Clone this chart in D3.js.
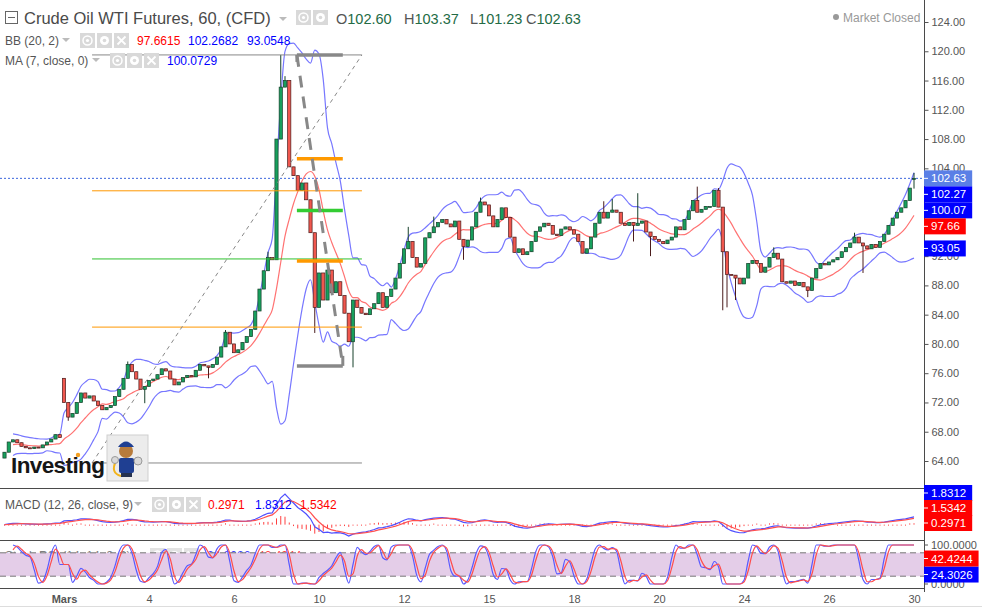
<!DOCTYPE html>
<html>
<head>
<meta charset="utf-8" />
<title>Crude Oil WTI Futures, 60</title>
<script src="https://d3js.org/d3.v7.min.js"></script>
<style>
  body { margin: 0; background: #fff; }
  svg text { font-family: "Liberation Sans", Arial, sans-serif; }
</style>
</head>
<body>
<svg id="chart" width="982" height="608"></svg>
<script>
// closes, one candle every ~4.25px (each stands for ~2 hourly bars)
var closes = [
  65.2, 66.6, 66.9, 66.5, 66.0, 65.8, 65.7, 65.9, 65.8, 66.2,
  66.6, 67.0, 67.6, 67.2, 72.0, 70.0, 70.5, 72.0, 73.3, 72.6,
  72.9, 72.2, 71.6, 71.0, 71.3, 71.6, 72.8, 73.8, 75.3, 77.2,
  76.2, 75.2, 73.8, 74.2, 75.0, 75.2, 75.8, 76.6, 76.3, 75.2,
  74.4, 74.8, 75.4, 75.7, 75.5, 76.4, 77.2, 77.0, 76.8, 77.2,
  78.2, 79.6, 81.6, 80.0, 78.8, 79.2, 80.2, 81.0, 82.0, 84.5,
  87.5, 90.0, 91.8, 91.5, 108.0, 115.1, 116.0, 104.2, 103.0, 101.0,
  102.0, 99.7, 95.2, 85.0, 89.7, 86.0, 90.1, 87.0, 88.5, 86.6,
  84.2, 80.3, 86.0, 85.0, 84.2, 84.0, 84.8, 85.5, 87.0, 85.0,
  86.5, 87.5, 89.0, 91.0, 93.0, 94.0, 91.8, 90.5, 91.0, 94.5,
  95.2, 96.0, 96.6, 97.0, 96.4, 96.0, 96.8, 94.3, 93.3, 94.2,
  96.0, 98.0, 99.4, 99.0, 97.5, 96.0, 97.0, 98.6, 97.3, 94.6,
  92.5, 93.0, 92.2, 92.6, 94.0, 95.4, 96.0, 96.5, 96.2, 95.0,
  94.8, 95.7, 96.0, 95.6, 95.0, 94.0, 92.4, 93.0, 94.6, 96.5,
  98.0, 97.2, 98.0, 98.3, 98.0, 96.5, 96.2, 96.6, 96.2, 96.5,
  96.8, 95.3, 94.7, 94.3, 94.0, 93.7, 94.2, 94.6, 96.0, 95.6,
  97.0, 98.2, 99.6, 98.0, 98.4, 98.8, 98.8, 101.0, 98.7, 92.6,
  89.5, 89.4, 89.0, 88.2, 89.0, 91.0, 91.4, 91.0, 89.8, 90.5,
  91.8, 92.4, 91.6, 88.5, 88.3, 88.6, 88.0, 88.4, 87.8, 87.3,
  89.0, 90.3, 91.0, 90.8, 91.2, 91.5, 91.8, 92.6, 93.2, 93.8,
  94.6, 93.8, 93.4, 93.0, 93.6, 93.2, 94.0, 95.0, 96.2, 97.2,
  98.0, 98.6, 99.6, 101.3, 102.63
];
// open = previous close, except where there is a gap
var gapOpens = [[0, 64.4], [14, 75.3], [214, 102.60]];
// wicks that stick out of the bodies
var wickHighs = [[14, 75.3], [29, 77.6], [52, 81.9], [62, 92.6], [65, 119.5], [66, 116.6],
  [95, 96.0], [101, 97.4], [112, 100.0], [141, 99.5], [143, 99.8], [149, 100.6],
  [163, 101.5], [168, 101.3], [181, 93.2], [200, 95.2], [214, 103.37]];
var wickLows = [[15, 69.5], [33, 71.9], [48, 75.3], [73, 81.5], [82, 76.8], [108, 91.5],
  [148, 94.0], [152, 92.0], [169, 84.6], [170, 85.0], [172, 86.0], [189, 86.4],
  [202, 89.7], [214, 101.23]];

var dateTickIdx = [14, 34, 54, 74, 94, 114, 134, 154, 174, 194, 214];
var dateLabels = ["Mars", "4", "6", "10", "12", "15", "18", "20", "24", "26", "30"];
var priceTicks = [124, 120, 116, 112, 108, 104, 100, 96, 92, 88, 84, 80, 76, 72, 68, 64];

var ohlcText = [["O", "102.60"], ["H", "103.37"], ["L", "101.23"], ["C", "102.63"]];
var bbText = ["97.6615", "102.2682", "93.0548"];
var maText = ["100.0729"];
var macdText = ["0.2971", "1.8312", "1.5342"];
var stochText = ["24.3026", "42.4244"];
var priceTags = [[102.63, "#5a7fe6"], [102.27, "#0000ff"], [100.07, "#0000ff"], [97.66, "#ff0000"], [93.05, "#0000ff"]];
var macdTags = [["1.8312", "#0000ff"], ["1.5342", "#ff0000"], ["0.2971", "#ff0000"]];
var stochTags = [[42.4244, "#ff0000"], [24.3026, "#0000ff"]];

// fib drawings: [index from, index to, low, high] and their levels
var fibThin = [20.6, 84.1, 63.73, 119.5];
var fibThinLevels = [[0, "#888"], [0.333, "#ff9800"], [0.5, "#2ec02e"], [0.667, "#ff9800"], [1, "#888"]];
var fibThick = [68.8, 79.6, 77.0, 119.5];
var fibThickLevels = [[0, "#888"], [0.334, "#ff9900"], [0.5, "#33cc33"], [0.663, "#ff9900"], [1, "#888"]];

// indicator settings are in hourly bars; one drawn candle ~ 2 of them
var barsPerCandle = 2;
var bbLen = 20, macdFast = 12, macdSlow = 26, macdSig = 9, rsiLen = 14, stLen = 14, stK = 3, stD = 3;

var axisX = 924;
var svg = d3.select("#chart");

var x = d3.scaleLinear().domain([14, 214]).range([64, 914]);
var y = d3.scaleLinear().domain([64, 124]).range([461, 22]);

// candles
var gapMap = new Map(gapOpens), hiMap = new Map(wickHighs), loMap = new Map(wickLows);
var candles = closes.map(function(c, i) {
  var o = gapMap.has(i) ? gapMap.get(i) : closes[i - 1];
  var h = hiMap.has(i) ? hiMap.get(i) : Math.max(o, c);
  var l = loMap.has(i) ? loMap.get(i) : Math.min(o, c);
  return {i: i, o: o, h: h, l: l, c: c};
});

function per(n) { return Math.max(2, Math.round(n / barsPerCandle)); }

// indicators
var bbN = per(bbLen);
var bb = closes.map(function(c, i) {
  var win = closes.slice(Math.max(0, i - bbN + 1), i + 1);
  var m = d3.mean(win);
  var sd = Math.sqrt(d3.mean(win, function(v) { return (v - m) * (v - m); }));
  return {i: i, mid: m, up: m + 2 * sd, lo: m - 2 * sd};
}).slice(2);

function ema(arr, n) {
  var k = 2 / (n + 1), prev, out = [];
  arr.forEach(function(v, i) { prev = i === 0 ? v : v * k + prev * (1 - k); out.push(prev); });
  return out;
}
var eF = ema(closes, macdFast / barsPerCandle), eS = ema(closes, macdSlow / barsPerCandle);
var macd = eF.map(function(v, i) { return v - eS[i]; });
var signal = ema(macd, macdSig / barsPerCandle);
var hist = macd.map(function(v, i) { return v - signal[i]; });

var rN = per(rsiLen);
var rsi = [50], ag = 0, al = 0;
for (var i = 1; i < closes.length; i++) {
  var d = closes[i] - closes[i - 1];
  var g = Math.max(d, 0), l = Math.max(-d, 0);
  if (i === 1) { ag = g; al = l; } else { ag = (ag * (rN - 1) + g) / rN; al = (al * (rN - 1) + l) / rN; }
  rsi.push(al === 0 ? 100 : 100 - 100 / (1 + ag / al));
}
var sN = per(stLen);
var stoch = rsi.map(function(r, i) {
  var win = rsi.slice(Math.max(0, i - sN + 1), i + 1);
  var mn = d3.min(win), mx = d3.max(win);
  return mx === mn ? 50 : (r - mn) / (mx - mn) * 100;
});
function sma(arr, n) {
  return arr.map(function(v, i) { return d3.mean(arr.slice(Math.max(0, i - n + 1), i + 1)); });
}
var kLine = sma(stoch, per(stK)), dLine = sma(kLine, per(stD));

// clips
var defs = svg.append("defs");
defs.append("clipPath").attr("id", "clipMain").append("rect").attr("x", 0).attr("y", 0).attr("width", axisX).attr("height", 488);
defs.append("clipPath").attr("id", "clipMacd").append("rect").attr("x", 0).attr("y", 489).attr("width", axisX).attr("height", 50);
defs.append("clipPath").attr("id", "clipStoch").append("rect").attr("x", 0).attr("y", 541).attr("width", axisX).attr("height", 47);

var gMain = svg.append("g").attr("clip-path", "url(#clipMain)");

// bollinger bands
var bbUp = d3.line().x(function(d) { return x(d.i); }).y(function(d) { return y(d.up); }).curve(d3.curveMonotoneX);
var bbLo = d3.line().x(function(d) { return x(d.i); }).y(function(d) { return y(d.lo); }).curve(d3.curveMonotoneX);
var bbMid = d3.line().x(function(d) { return x(d.i); }).y(function(d) { return y(d.mid); }).curve(d3.curveMonotoneX);
gMain.append("path").datum(bb).attr("d", bbMid).attr("fill", "none").attr("stroke", "#ff7272").attr("stroke-width", 1.2);
gMain.append("path").datum(bb).attr("d", bbUp).attr("fill", "none").attr("stroke", "#7777ff").attr("stroke-width", 1.2);
gMain.append("path").datum(bb).attr("d", bbLo).attr("fill", "none").attr("stroke", "#7777ff").attr("stroke-width", 1.2);

// last price line
var last = closes[closes.length - 1];
gMain.append("line").attr("x1", 0).attr("x2", axisX).attr("y1", y(last)).attr("y2", y(last))
  .attr("stroke", "#3a66dd").attr("stroke-dasharray", "2,2");

// candles
var cg = gMain.selectAll(".candle").data(candles).enter().append("g").attr("class", "candle");
cg.append("line")
  .attr("x1", function(d) { return x(d.i); }).attr("x2", function(d) { return x(d.i); })
  .attr("y1", function(d) { return y(d.h); }).attr("y2", function(d) { return y(d.l); })
  .attr("stroke", function(d) { return d.c >= d.o ? "#17402b" : "#4a1c1c"; }).attr("stroke-width", 1);
cg.append("rect")
  .attr("x", function(d) { return x(d.i) - 1.6; }).attr("width", 3.2)
  .attr("y", function(d) { return y(Math.max(d.o, d.c)); })
  .attr("height", function(d) { return Math.max(1, Math.abs(y(d.o) - y(d.c))); })
  .attr("fill", function(d) { return d.c >= d.o ? "#17a05d" : "#f0574e"; })
  .attr("stroke", function(d) { return d.c >= d.o ? "#17402b" : "#4a1c1c"; }).attr("stroke-width", 0.7);

// fib retracement (thin)
var ft = fibThin;
fibThinLevels.forEach(function(lv) {
  var p = ft[2] + (ft[3] - ft[2]) * lv[0];
  gMain.append("line").attr("x1", x(ft[0])).attr("x2", x(ft[1])).attr("y1", y(p)).attr("y2", y(p))
    .attr("stroke", lv[1]).attr("stroke-width", 1);
});
gMain.append("line").attr("x1", x(ft[0])).attr("y1", y(ft[2])).attr("x2", x(ft[1])).attr("y2", y(ft[3]))
  .attr("stroke", "#888").attr("stroke-width", 1).attr("stroke-dasharray", "4,4");

// fib retracement (thick)
var fk = fibThick;
fibThickLevels.forEach(function(lv) {
  var p = fk[3] - (fk[3] - fk[2]) * lv[0];
  gMain.append("line").attr("x1", x(fk[0])).attr("x2", x(fk[1])).attr("y1", y(p)).attr("y2", y(p))
    .attr("stroke", lv[1]).attr("stroke-width", 3.5);
});
gMain.append("line").attr("x1", x(fk[0])).attr("y1", y(fk[3])).attr("x2", x(fk[1])).attr("y2", y(fk[2]))
  .attr("stroke", "#888").attr("stroke-width", 3).attr("stroke-dasharray", "12,9");
gMain.append("line").attr("x1", x(fk[1])).attr("x2", x(fk[1])).attr("y1", y(fk[2]) - 10).attr("y2", y(fk[2]))
  .attr("stroke", "#888").attr("stroke-width", 3);
gMain.append("line").attr("x1", x(fk[0])).attr("x2", x(fk[0])).attr("y1", y(fk[3])).attr("y2", y(fk[3]) + 7)
  .attr("stroke", "#888").attr("stroke-width", 3);

// Investing logo + mascot
var logo = svg.append("g");
logo.append("text").attr("x", 11).attr("y", 473).attr("font-size", 22.5).attr("font-weight", "bold")
  .attr("fill", "#161616").attr("letter-spacing", -0.6).text("Investing");
logo.append("circle").attr("cx", 78).attr("cy", 455).attr("r", 2.2).attr("fill", "#f5a020");
var m = logo.append("g").attr("transform", "translate(107,435)");
m.append("rect").attr("width", 41).attr("height", 46).attr("fill", "#ececec").attr("stroke", "#cfcfcf");
m.append("circle").attr("cx", 19).attr("cy", 16).attr("r", 7).attr("fill", "#b77b3c");
m.append("path").attr("d", "M11,12 Q19,1 27,12 Z").attr("fill", "#1f3f92");
m.append("rect").attr("x", 12).attr("y", 23).attr("width", 15).attr("height", 15).attr("rx", 2).attr("fill", "#1f3f92");
m.append("rect").attr("x", 14).attr("y", 38).attr("width", 11).attr("height", 4).attr("fill", "#26324f");
m.append("path").attr("d", "M9,26 Q3,38 14,41").attr("fill", "none").attr("stroke", "#f2b41c").attr("stroke-width", 2);
m.append("circle").attr("cx", 31).attr("cy", 26).attr("r", 4).attr("fill", "#d9d9d9").attr("stroke", "#999");
m.append("circle").attr("cx", 8).attr("cy", 25).attr("r", 3.5).attr("fill", "#d9d9d9").attr("stroke", "#999");

// MACD pane
var allMacd = macd.concat(signal, hist);
var yM = d3.scaleLinear().domain(d3.extent(allMacd)).range([536, 494]);
var gMacd = svg.append("g").attr("clip-path", "url(#clipMacd)");
gMacd.selectAll(".hist").data(hist).enter().append("line")
  .attr("x1", function(d, i) { return x(i); }).attr("x2", function(d, i) { return x(i); })
  .attr("y1", yM(0)).attr("y2", function(d) { return Math.abs(yM(d) - yM(0)) < 1 ? yM(0) + 1 : yM(d); })
  .attr("stroke", "#ff4040").attr("stroke-width", 1);
var lineM = d3.line().x(function(d, i) { return x(i); }).y(function(d) { return yM(d); });
gMacd.append("path").datum(macd).attr("d", lineM).attr("fill", "none").attr("stroke", "#5050ff").attr("stroke-width", 1.2);
gMacd.append("path").datum(signal).attr("d", lineM).attr("fill", "none").attr("stroke", "#ff5050").attr("stroke-width", 1.2);

// Stoch RSI pane
var yS = d3.scaleLinear().domain([0, 100]).range([584, 545]);
var gStoch = svg.append("g").attr("clip-path", "url(#clipStoch)");
gStoch.append("rect").attr("x", 0).attr("width", axisX).attr("y", yS(80)).attr("height", yS(20) - yS(80)).attr("fill", "#e4cde8");
[80, 20].forEach(function(v) {
  gStoch.append("line").attr("x1", 0).attr("x2", axisX).attr("y1", yS(v)).attr("y2", yS(v))
    .attr("stroke", "#777").attr("stroke-dasharray", "6,4");
});

// legends
function icons(g, x0, yTop, n) {
  for (var k = 0; k < n; k++) {
    var bx = x0 + k * 17;
    g.append("rect").attr("x", bx).attr("y", yTop).attr("width", 15).attr("height", 15).attr("fill", "#d9d9d9");
    if (k === 0) {
      g.append("circle").attr("cx", bx + 7.5).attr("cy", yTop + 7.5).attr("r", 4.5).attr("fill", "none").attr("stroke", "#fff").attr("stroke-width", 1.5);
      g.append("circle").attr("cx", bx + 7.5).attr("cy", yTop + 7.5).attr("r", 1.6).attr("fill", "#fff");
    } else if (k === 1) {
      g.append("circle").attr("cx", bx + 7.5).attr("cy", yTop + 7.5).attr("r", 4.5).attr("fill", "#fff");
      g.append("circle").attr("cx", bx + 7.5).attr("cy", yTop + 7.5).attr("r", 1.8).attr("fill", "#d9d9d9");
    } else {
      g.append("path").attr("d", "M" + (bx + 3.5) + "," + (yTop + 3.5) + "l8,8M" + (bx + 11.5) + "," + (yTop + 3.5) + "l-8,8")
        .attr("stroke", "#fff").attr("stroke-width", 1.8);
    }
  }
}
function caret(g, cx, cy) {
  g.append("path").attr("d", "M" + (cx - 4) + "," + (cy - 2) + "h8l-4,4z").attr("fill", "#bbb");
}

var leg = svg.append("g");
leg.append("rect").attr("x", 5.5).attr("y", 11.5).attr("width", 12).attr("height", 12).attr("fill", "#fff").attr("stroke", "#666");
leg.append("line").attr("x1", 8).attr("x2", 15).attr("y1", 17.5).attr("y2", 17.5).attr("stroke", "#666");
leg.append("text").attr("x", 24).attr("y", 24).attr("font-size", 16.5).attr("fill", "#4a4a4a").text("Crude Oil WTI Futures, 60, (CFD)");
caret(leg, 283, 19);
icons(leg, 296, 10, 2);
var ohlcX = [336, 404, 470, 526];
ohlcText.forEach(function(t, k) {
  var tx = leg.append("text").attr("x", ohlcX[k]).attr("y", 24).attr("font-size", 14.5);
  tx.append("tspan").attr("fill", "#555").text(t[0]);
  tx.append("tspan").attr("fill", "#236b45").text(t[1]);
});

leg.append("text").attr("x", 5).attr("y", 45).attr("font-size", 12).attr("fill", "#555").text("BB (20, 2)");
caret(leg, 66, 40);
icons(leg, 80, 33, 3);
var bbCol = ["#ff0000", "#0000ff", "#0000ff"], bbX = [137, 188, 247];
bbText.forEach(function(t, k) {
  leg.append("text").attr("x", bbX[k]).attr("y", 45).attr("font-size", 12).attr("fill", bbCol[k]).text(t);
});
leg.append("text").attr("x", 5).attr("y", 65).attr("font-size", 12).attr("fill", "#555").text("MA (7, close, 0)");
caret(leg, 96, 60);
icons(leg, 110, 53, 3);
leg.append("text").attr("x", 167).attr("y", 65).attr("font-size", 12).attr("fill", "#0000ff").text(maText[0]);

leg.append("text").attr("x", 5).attr("y", 509).attr("font-size", 12).attr("fill", "#555").text("MACD (12, 26, close, 9)");
caret(leg, 138, 504);
icons(leg, 152, 497, 3);
var mcCol = ["#ff0000", "#0000ff", "#ff0000"], mcX = [208, 255, 300];
macdText.forEach(function(t, k) {
  leg.append("text").attr("x", mcX[k]).attr("y", 509).attr("font-size", 12).attr("fill", mcCol[k]).text(t);
});

var sleg = svg.append("g").attr("opacity", 0.75);
sleg.append("text").attr("x", 5).attr("y", 560).attr("font-size", 12).attr("fill", "#555").text("Stoch RSI (14, 14, 3, 3)");
caret(sleg, 137, 555);
icons(sleg, 150, 548, 3);
var stCol = ["#0000ff", "#ff0000"], stX = [207, 258];
stochText.forEach(function(t, k) {
  sleg.append("text").attr("x", stX[k]).attr("y", 560).attr("font-size", 12).attr("fill", stCol[k]).text(t);
});

// stoch lines above the legend
var lineS = d3.line().x(function(d, i) { return x(i + 2); }).y(function(d) { return yS(d); }).curve(d3.curveMonotoneX);
gStoch.raise();
gStoch.append("path").datum(kLine.slice(2)).attr("d", lineS).attr("fill", "none").attr("stroke", "#5a5aff").attr("stroke-width", 1.2);
gStoch.append("path").datum(dLine.slice(2)).attr("d", lineS).attr("fill", "none").attr("stroke", "#ff4c4c").attr("stroke-width", 1.2);

// market closed
svg.append("circle").attr("cx", 836).attr("cy", 17).attr("r", 3).attr("fill", "#999");
svg.append("text").attr("x", 843).attr("y", 21.5).attr("font-size", 12).attr("fill", "#999").text("Market Closed");

// frame lines
var frame = svg.append("g").attr("stroke", "#4a4a4a").attr("stroke-width", 1);
frame.append("line").attr("x1", 0).attr("x2", axisX).attr("y1", 488.5).attr("y2", 488.5);
frame.append("line").attr("x1", 0).attr("x2", axisX).attr("y1", 540.5).attr("y2", 540.5);
frame.append("line").attr("x1", 0).attr("x2", axisX).attr("y1", 588.5).attr("y2", 588.5);
frame.append("line").attr("x1", axisX + 0.5).attr("x2", axisX + 0.5).attr("y1", 0).attr("y2", 592);
svg.append("line").attr("x1", 0).attr("x2", 982).attr("y1", 606.5).attr("y2", 606.5).attr("stroke", "#ddd");

// where the price tags will sit (stacked so they do not overlap)
var tagY = [], prevY = -100;
priceTags.forEach(function(p) {
  var yc = Math.max(y(p[0]), prevY + 16);
  tagY.push(yc);
  prevY = yc;
});

// price axis (labels hidden when a tag covers them entirely)
var yAxis = d3.axisRight(y).tickValues(priceTicks).tickFormat(d3.format(".2f")).tickSize(4).tickPadding(3);
var ga = svg.append("g").attr("transform", "translate(" + (axisX + 0.5) + ",0)").call(yAxis);
ga.select(".domain").remove();
ga.selectAll("line").attr("stroke", "#555");
ga.selectAll("text").attr("font-size", 11).attr("fill", "#555").attr("font-family", "Liberation Sans, Arial, sans-serif")
  .style("display", function(d) {
    var ty = y(d);
    return tagY.some(function(t) { return Math.abs(t - ty) < 6; }) ? "none" : null;
  });

// date axis
var xAxis = d3.axisBottom(x).tickValues(dateTickIdx).tickFormat(function(d, k) { return dateLabels[k]; }).tickSize(0).tickPadding(7);
var gx = svg.append("g").attr("transform", "translate(0,588)").call(xAxis);
gx.select(".domain").remove();
gx.selectAll("text").attr("font-size", 11).attr("fill", "#555").attr("font-family", "Liberation Sans, Arial, sans-serif")
  .attr("font-weight", function(d, k) { return k === 0 ? "bold" : "normal"; });

// stoch axis text
[[100, "100.0000"], [0, "0.0000"]].forEach(function(t) {
  svg.append("line").attr("x1", axisX).attr("x2", axisX + 4).attr("y1", yS(t[0])).attr("y2", yS(t[0])).attr("stroke", "#555");
  svg.append("text").attr("x", axisX + 7).attr("y", yS(t[0]) + 4).attr("font-size", 11).attr("fill", "#555").text(t[1]);
});

// value tags on the right axis
function tag(yc, label, color) {
  var g = svg.append("g");
  var r = g.append("rect").attr("x", axisX).attr("y", yc - 8).attr("height", 16).attr("fill", color);
  var t = g.append("text").attr("x", axisX + 7).attr("y", yc + 4).attr("font-size", 11.5).attr("fill", "#fff").text(label);
  r.attr("width", t.node().getComputedTextLength() + 13);
  g.append("line").attr("x1", axisX).attr("x2", axisX + 4).attr("y1", yc).attr("y2", yc).attr("stroke", "#fff");
}
priceTags.forEach(function(p, k) { tag(tagY[k], d3.format(".2f")(p[0]), p[1]); });
macdTags.forEach(function(p, k) { tag(493 + k * 15, p[0], p[1]); });
var nextY = 1000;
stochTags.slice().reverse().forEach(function(p) {
  var yc = Math.min(yS(p[0]), nextY - 16);
  tag(yc, p[0].toFixed(4), p[1]);
  nextY = yc;
});
</script>
</body>
</html>
